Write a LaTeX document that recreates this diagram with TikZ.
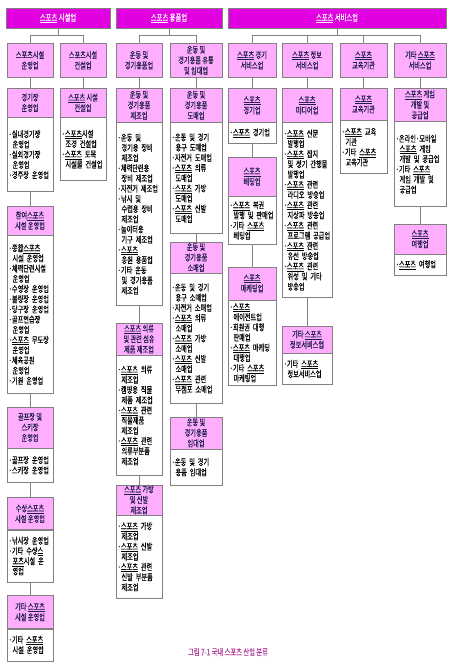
\documentclass[tikz,border=0pt]{standalone}
\usepackage{fontspec}
\usepackage{tikz}
\usetikzlibrary{positioning}
\newfontfamily\kr[FakeStretch=0.7,FakeBold=0.6]{Noto Sans CJK KR}
\newcommand\sport{\underline{스포츠}}
\newcommand\ind{\hspace*{4pt}}
\definecolor{headmag}{HTML}{E000E0}
\definecolor{catpink}{HTML}{FFADFF}
\definecolor{linegray}{HTML}{808080}
\definecolor{inkblue}{HTML}{1E1E46}
\definecolor{capviolet}{HTML}{B0409C}

\begin{document}
\begin{tikzpicture}[x=1pt,y=-1pt,
  sechead/.style={draw=linegray,fill=headmag,text=white,minimum height=20pt,inner sep=0pt,anchor=north,font=\kr\fontsize{9}{10}\selectfont},
  catbox/.style={draw=linegray,fill=catpink,text=inkblue,align=center,inner sep=0pt,anchor=north,font=\kr\fontsize{8.8}{10.5}\selectfont},
  listbox/.style={draw=linegray,fill=white,align=left,inner xsep=1.5pt,inner ysep=0pt,anchor=north,font=\kr\fontsize{8.8}{10.2}\selectfont},
  link/.style={draw=linegray,line width=1pt}]
  \useasboundingbox (0,0) rectangle (455,671);
  % section headers
  \node[sechead,minimum width=104pt] (h1) at (58,8) {\sport{} 시설업};
  \node[sechead,minimum width=106pt] (h2) at (169,8) {\sport{} 용품업};
  \node[sechead,minimum width=218pt] (h3) at (337,8) {\sport{} 서비스업};
  % second row
  \node[catbox,minimum width=46pt,minimum height=34pt] (s1a) at (30,43) {스포츠시설\\운영업};
  \node[catbox,minimum width=46pt,minimum height=34pt] (s1b) at (83,43) {스포츠시설\\건설업};
  \node[catbox,minimum width=46pt,minimum height=34pt] (s2a) at (139,43) {운동 및\\경기용품업};
  \node[catbox,minimum width=52pt,minimum height=34pt] (s2b) at (196,43) {운동 및\\경기용품 유통\\및 임대업};
  \node[catbox,minimum width=48pt,minimum height=34pt] (s3a) at (252,43) {\sport{} 경기\\서비스업};
  \node[catbox,minimum width=50pt,minimum height=34pt] (s3b) at (307,43) {\sport{} 정보\\서비스업};
  \node[catbox,minimum width=47pt,minimum height=34pt] (s3c) at (363.5,43) {\sport\\교육기관};
  \node[catbox,minimum width=52pt,minimum height=34pt] (s3d) at (420,43) {기타 \sport\\서비스업};
  % facility column 1
  \node[catbox,minimum width=46pt,minimum height=29pt] (f1) at (30,88) {경기장\\운영업};
  \node[listbox,text width=43pt,minimum height=74pt,below=0pt of f1] (f1l) {·실내경기장\\\ind 운영업\\·실외경기장\\\ind 운영업\\·경주장~운영업};
  \node[catbox,minimum width=46pt,minimum height=29pt,below=14pt of f1l] (f2) {참여\sport\\시설 운영업};
  \node[listbox,text width=43pt,minimum height=158pt,below=0pt of f2] (f2l) {·종합\sport\\\ind 시설~운영업\\·체력단련시설\\\ind 운영업\\·수영장~운영업\\·볼링장~운영업\\·당구장~운영업\\·골프연습장\\\ind 운영업\\·\sport{}~무도장\\\ind 운영업\\·체육공원\\\ind 운영업\\·기원~운영업};
  \node[catbox,minimum width=46pt,minimum height=41pt,below=13pt of f2l] (f3) {골프장 및\\스키장\\운영업};
  \node[listbox,text width=43pt,minimum height=34pt,below=0pt of f3] (f3l) {·골프장~운영업\\·스키장~운영업};
  \node[catbox,minimum width=46pt,minimum height=32pt,below=15pt of f3l] (f4) {수상\sport\\시설 운영업};
  \node[listbox,text width=43pt,minimum height=52pt,below=0pt of f4] (f4l) {·낚시장~운영업\\·기타~수상\underline{스}\\\ind \underline{포츠}시설~운\\\ind 영업};
  \node[catbox,minimum width=46pt,minimum height=33pt,below=13pt of f4l] (f5) {기타 \sport\\시설 운영업};
  \node[listbox,text width=43pt,minimum height=32pt,below=0pt of f5] (f5l) {·기타~\sport\\\ind 시설~운영업};
  % facility column 2
  \node[catbox,minimum width=46pt,minimum height=29pt] (g1) at (83,88) {\sport{} 시설\\건설업};
  \node[listbox,text width=43pt,minimum height=63pt,below=0pt of g1] (g1l) {·\sport 시설\\\ind 조경~건설업\\·\sport{}~토목\\\ind 시설물~건설업};
  % goods column 3
  \node[catbox,minimum width=46pt,minimum height=34pt] (m1) at (139,88) {운동 및\\경기용품\\제조업};
  \node[listbox,text width=43pt,minimum height=183pt,below=0pt of m1] (m1l) {·운동~및\\\ind 경기용~장비\\\ind 제조업\\·체력단련용\\\ind 장비~제조업\\·자전거~제조업\\·낚시~및\\\ind 수렵용~장비\\\ind 제조업\\·놀이터용\\\ind 기구~제조업\\·\sport\\\ind 응원~용품업\\·기타~운동\\\ind 및~경기용품\\\ind 제조업};
  \node[catbox,minimum width=46pt,minimum height=32pt,below=17pt of m1l] (m2) {\sport{} 의류\\및 관련 섬유\\제품 제조업};
  \node[listbox,text width=43pt,minimum height=120pt,below=0pt of m2] (m2l) {·\sport{}~의류\\\ind 제조업\\·캠핑용~직물\\\ind 제품~제조업\\·\sport{}~관련\\\ind 직물제품\\\ind 제조업\\·\sport{}~관련\\\ind 의류부분품\\\ind 제조업};
  \node[catbox,minimum width=46pt,minimum height=30pt,below=9pt of m2l] (m3) {\sport{} 가방\\및 신발\\제조업};
  \node[listbox,text width=43pt,minimum height=83pt,below=0pt of m3] (m3l) {·\sport{}~가방\\\ind 제조업\\·\sport{}~신발\\\ind 제조업\\·\sport{}~관련\\\ind 신발~부분품\\\ind 제조업};
  % goods column 4
  \node[catbox,minimum width=52pt,minimum height=34pt] (r1) at (196,88) {운동 및\\경기용품\\도매업};
  \node[listbox,text width=49pt,minimum height=111pt,below=0pt of r1] (r1l) {·운동~및~경기\\\ind 용구~도매업\\·자전거~도매업\\·\sport{}~의류\\\ind 도매업\\·\sport{}~가방\\\ind 도매업\\·\sport{}~신발\\\ind 도매업};
  \node[catbox,minimum width=52pt,minimum height=31pt,below=8pt of r1l] (r2) {운동 및\\경기용품\\소매업};
  \node[listbox,text width=49pt,minimum height=130pt,below=0pt of r2] (r2l) {·운동~및~경기\\\ind 용구~소매업\\·자전거~소매업\\·\sport{}~의류\\\ind 소매업\\·\sport{}~가방\\\ind 소매업\\·\sport{}~신발\\\ind 소매업\\·\sport{}~관련\\\ind 무점포~소매업};
  \node[catbox,minimum width=52pt,minimum height=32pt,below=13pt of r2l] (r3) {운동 및\\경기용품\\임대업};
  \node[listbox,text width=49pt,minimum height=36pt,below=0pt of r3] (r3l) {·운동~및~경기\\\ind 용품~임대업};
  % service column 5
  \node[catbox,minimum width=48pt,minimum height=34pt] (e1) at (252,88) {\sport\\경기업};
  \node[listbox,text width=45pt,minimum height=21pt,below=0pt of e1] (e1l) {·\sport{}~경기업};
  \node[catbox,minimum width=48pt,minimum height=39pt,below=13pt of e1l] (e2) {\sport\\베팅업};
  \node[listbox,text width=45pt,minimum height=48pt,below=0pt of e2] (e2l) {·\sport{}~복권\\\ind 발행~및~판매업\\·기타~\sport\\\ind 베팅업};
  \node[catbox,minimum width=48pt,minimum height=33pt,below=22pt of e2l] (e3) {\sport\\마케팅업};
  \node[listbox,text width=45pt,minimum height=85pt,below=0pt of e3] (e3l) {·\sport\\\ind 에이전트업\\·회원권~대행\\\ind 판매업\\·\sport{}~마케팅\\\ind 대행업\\·기타~\sport\\\ind 마케팅업};
  % service column 6
  \node[catbox,minimum width=50pt,minimum height=34pt] (d1) at (307,88) {\sport\\미디어업};
  \node[listbox,text width=47pt,minimum height=175pt,below=0pt of d1] (d1l) {·\sport{}~신문\\\ind 발행업\\·\sport{}~잡지\\\ind 및~정기~간행물\\\ind 발행업\\·\sport{}~관련\\\ind 라디오~방송업\\·\sport{}~관련\\\ind 지상파~방송업\\·\sport{}~관련\\\ind 프로그램~공급업\\·\sport{}~관련\\\ind 유선~방송업\\·\sport{}~관련\\\ind 위성~및~기타\\\ind 방송업};
  \node[catbox,minimum width=50pt,minimum height=27pt,below=28pt of d1l] (d2) {기타 \sport\\정보서비스업};
  \node[listbox,text width=47pt,minimum height=31pt,below=0pt of d2] (d2l) {·기타~\sport\\\ind 정보서비스업};
  % service column 7
  \node[catbox,minimum width=47pt,minimum height=32pt] (t1) at (363.5,88) {\sport\\교육기관};
  \node[listbox,text width=44pt,minimum height=53pt,below=0pt of t1] (t1l) {·\sport{}~교육\\\ind 기관\\·기타~\sport\\\ind 교육기관};
  % service column 8
  \node[catbox,minimum width=52pt,minimum height=33pt] (o1) at (420,88) {\sport{} 게임\\개발 및\\공급업};
  \node[listbox,text width=49pt,minimum height=85pt,below=0pt of o1] (o1l) {·온라인·모바일\\\ind \sport{}~게임\\\ind 개발~및~공급업\\·기타~\sport\\\ind 게임~개발~및\\\ind 공급업};
  \node[catbox,minimum width=52pt,minimum height=30pt,below=17pt of o1l] (o2) {\sport\\여행업};
  \node[listbox,text width=49pt,minimum height=21pt,below=0pt of o2] (o2l) {·\sport{}~여행업};
  % caption
  \node[font=\kr\fontsize{9}{10}\selectfont,text=capviolet] (cap) at (228,652) {그림 7-1 국내 스포츠 산업 분류};
  % tree links
  \draw[link] (h1.south) -- ++(0,7) coordinate (b1);
  \draw[link] (h2.south) -- ++(0,7) coordinate (b2);
  \draw[link] (h3.south) -- ++(0,7) coordinate (b3);
  \foreach \c in {s1a,s1b} \draw[link] (\c.north) |- (b1);
  \foreach \c in {s2a,s2b} \draw[link] (\c.north) |- (b2);
  \foreach \c in {s3a,s3b,s3c,s3d} \draw[link] (\c.north) |- (b3);
  \draw[link] (s1a) -- (f1);
  \draw[link] (s1b) -- (g1);
  \draw[link] (s2a) -- (m1);
  \draw[link] (s2b) -- (r1);
  \draw[link] (s3a) -- (e1);
  \draw[link] (s3b) -- (d1);
  \draw[link] (s3c) -- (t1);
  \draw[link] (s3d) -- (o1);
  \draw[link] (f1l) -- (f2);
  \draw[link] (f2l) -- (f3);
  \draw[link] (f3l) -- (f4);
  \draw[link] (f4l) -- (f5);
  \draw[link] (m1l) -- (m2);
  \draw[link] (m2l) -- (m3);
  \draw[link] (r1l) -- (r2);
  \draw[link] (r2l) -- (r3);
  \draw[link] (e1l) -- (e2);
  \draw[link] (e2l) -- (e3);
  \draw[link] (d1l) -- (d2);
  \draw[link] (o1l) -- (o2);
\end{tikzpicture}
\end{document}
